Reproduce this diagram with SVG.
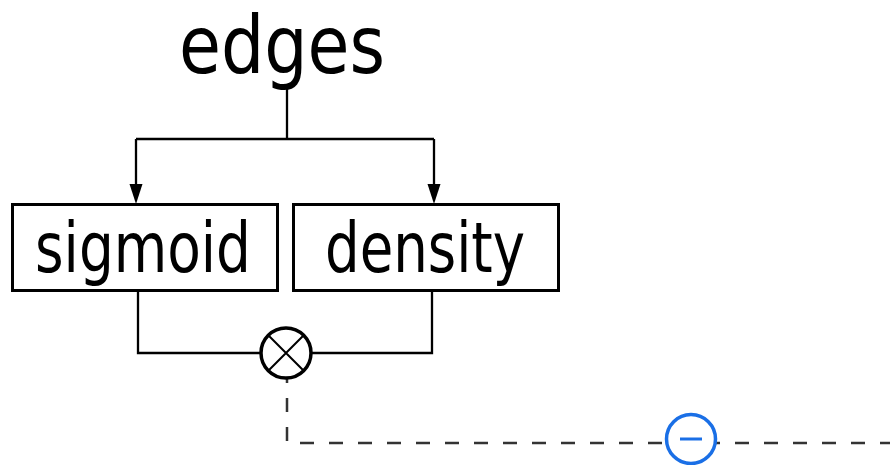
<svg xmlns="http://www.w3.org/2000/svg" width="890" height="465" viewBox="0 0 890 465">
<style>
.lbl{font-family:"DejaVu Sans Condensed","DejaVu Sans",sans-serif;fill:#000;text-anchor:middle}
.box{fill:#fff;stroke:#000;stroke-width:3}
.wire{fill:none;stroke:#000;stroke-width:2.3}
.head{fill:#000;stroke:none}
.dash{fill:none;stroke:#333;stroke-width:2.5;stroke-dasharray:14 15}
</style>
<rect width="890" height="465" fill="#fff"/>
<g id="connectors">
<path class="wire" d="M287,88 V139 M136,139 H434"/>
<path class="wire" d="M136,139 V188"/>
<path class="wire" d="M434,139 V188"/>
<polygon class="head" points="129.5,184 142.5,184 136,204"/>
<polygon class="head" points="427.5,184 440.5,184 434,204"/>
<path class="wire" d="M138,292 V353 H260 M432,292 V353 H312"/>
<path class="dash" d="M287,369 V443 H890"/>
</g>
<g id="edges">
<text class="lbl" x="282" y="73" font-size="80" textLength="206" lengthAdjust="spacingAndGlyphs">edges</text>
</g>
<g id="sigmoid">
<rect class="box" x="12.5" y="204.5" width="265" height="86"/>
<text class="lbl" x="143" y="272" font-size="70" textLength="216" lengthAdjust="spacingAndGlyphs">sigmoid</text>
</g>
<g id="density">
<rect class="box" x="293.5" y="204.5" width="265" height="86"/>
<text class="lbl" x="425" y="272" font-size="70" textLength="200" lengthAdjust="spacingAndGlyphs">density</text>
</g>
<g id="multiply">
<circle cx="286" cy="353" r="25" fill="#fff" stroke="#000" stroke-width="3.5"/>
<path d="M268.3,335.3 L303.7,370.7 M303.7,335.3 L268.3,370.7" stroke="#000" stroke-width="2"/>
</g>
<g id="minus">
<circle cx="691" cy="439" r="24.5" fill="#fff" stroke="#1a6fe6" stroke-width="3.5"/>
<path d="M680,439 H702" stroke="#1a6fe6" stroke-width="3"/>
</g>
</svg>
